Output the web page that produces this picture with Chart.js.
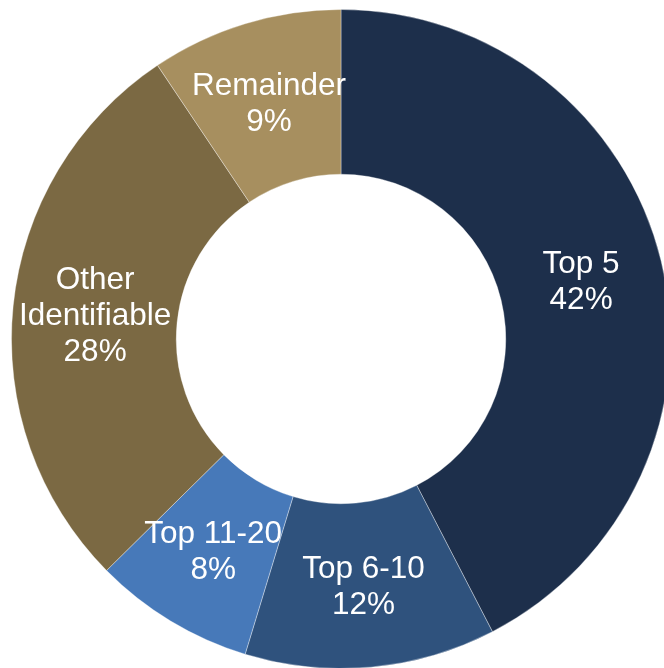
<!DOCTYPE html>
<html>
<head>
<meta charset="utf-8">
<script src="https://cdn.jsdelivr.net/npm/chart.js@4"></script>
<style>
    html, body { margin: 0; padding: 0; background: #fff; }
    body { width: 664px; height: 668px; overflow: hidden; position: relative; }
    #wrap { position: absolute; left: 11px; top: 9px; width: 660px; height: 660px; }
</style>
</head>
<body>
<div id="wrap"><canvas id="donut" width="660" height="660"></canvas></div>
<script>
const categories = ["Top 5", "Top 6-10", "Top 11-20", "Other Identifiable", "Remainder"];
const shares = [42.4, 12.3, 7.9, 28.0, 9.4];
const labelLines = [["Top 5"], ["Top 6-10"], ["Top 11-20"], ["Other", "Identifiable"], ["Remainder"]];
const colors = ["#1d2f4b", "#2f527d", "#4779b9", "#7b6943", "#a78f5f"];

// draws the name + percent in the middle of each slice
const sliceLabels = {
    id: 'sliceLabels',
    afterDatasetsDraw(chart) {
        const ctx = chart.ctx;
        const meta = chart.getDatasetMeta(0);
        ctx.save();
        ctx.font = '31.5px "Liberation Sans", Arial, sans-serif';
        ctx.fillStyle = '#ffffff';
        ctx.textAlign = 'center';
        ctx.textBaseline = 'middle';
        const lineH = 36;
        meta.data.forEach((arc, i) => {
            const p = arc.getCenterPoint();
            const lines = labelLines[i].concat([Math.round(shares[i]) + '%']);
            const top = p.y + 2 - (lines.length - 1) * lineH / 2;
            lines.forEach((t, j) => ctx.fillText(t, p.x, top + j * lineH));
        });
        ctx.restore();
    }
};

new Chart(document.getElementById('donut').getContext('2d'), {
    type: 'doughnut',
    data: {
        labels: categories,
        datasets: [{
            data: shares,
            backgroundColor: colors,
            borderColor: 'rgba(255,255,255,0.35)',
            borderWidth: 1
        }]
    },
    options: {
        responsive: false,
        animation: false,
        cutout: '50%',
        layout: { padding: 0 },
        plugins: {
            legend: { display: false },
            tooltip: { enabled: false }
        }
    },
    plugins: [sliceLabels]
});
</script>
</body>
</html>
